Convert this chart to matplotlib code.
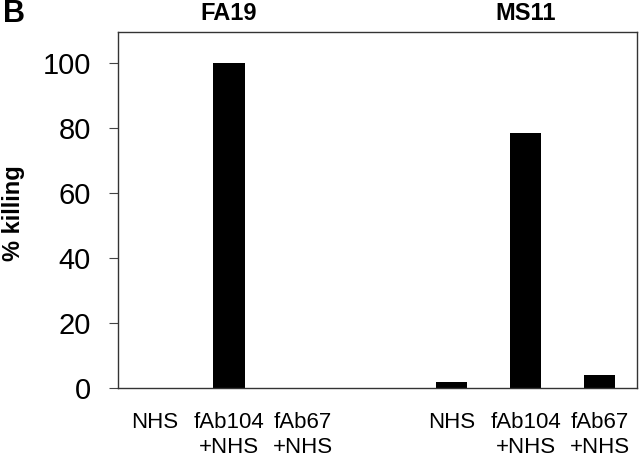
import matplotlib.pyplot as plt
import matplotlib.transforms as mtransforms

plt.rcParams['font.family'] = ['Liberation Sans', 'DejaVu Sans']

# positions of the bars (gap between the two strains)
positions = [0, 1, 2, 4, 5, 6]
labels = ["NHS", "fAb104\n+NHS", "fAb67\n+NHS", "NHS", "fAb104\n+NHS", "fAb67\n+NHS"]
killing = [0, 100, 0, 1.7, 78.5, 4.1]
strains = ["FA19", "MS11"]
strain_pos = [1, 5]

fig = plt.figure(figsize=(6.4, 4.58), dpi=100)
ax = fig.add_axes([0.184, 0.153, 0.811, 0.777])

ax.bar(positions, killing, width=0.42, color="black")

ax.set_xlim(-0.5, 6.5)
ax.set_ylim(0, 109.5)
ax.set_yticks([0, 20, 40, 60, 80, 100])
ax.tick_params(axis="y", labelsize=21, length=6.5, width=0.8, pad=13, color="#444444")
ax.set_xticks(positions)
ax.set_xticklabels(labels, fontsize=16, linespacing=1.3)
ax.tick_params(axis="x", length=0, pad=17)

for s in ax.spines.values():
    s.set_color("#333333")
    s.set_linewidth(1.0)

ax.set_ylabel("% killing", fontsize=17, fontweight="bold")
ax.yaxis.set_label_coords(-0.179, 0.49)

trans = mtransforms.blended_transform_factory(ax.transData, ax.transAxes)
for name, x in zip(strains, strain_pos):
    ax.text(x, 1.053, name, transform=trans, ha="center", va="center",
            fontsize=17, fontweight="bold")

fig.text(0.005, 0.97, "B", fontsize=22, fontweight="bold", ha="left", va="center")

plt.savefig("out.png", dpi=100)
